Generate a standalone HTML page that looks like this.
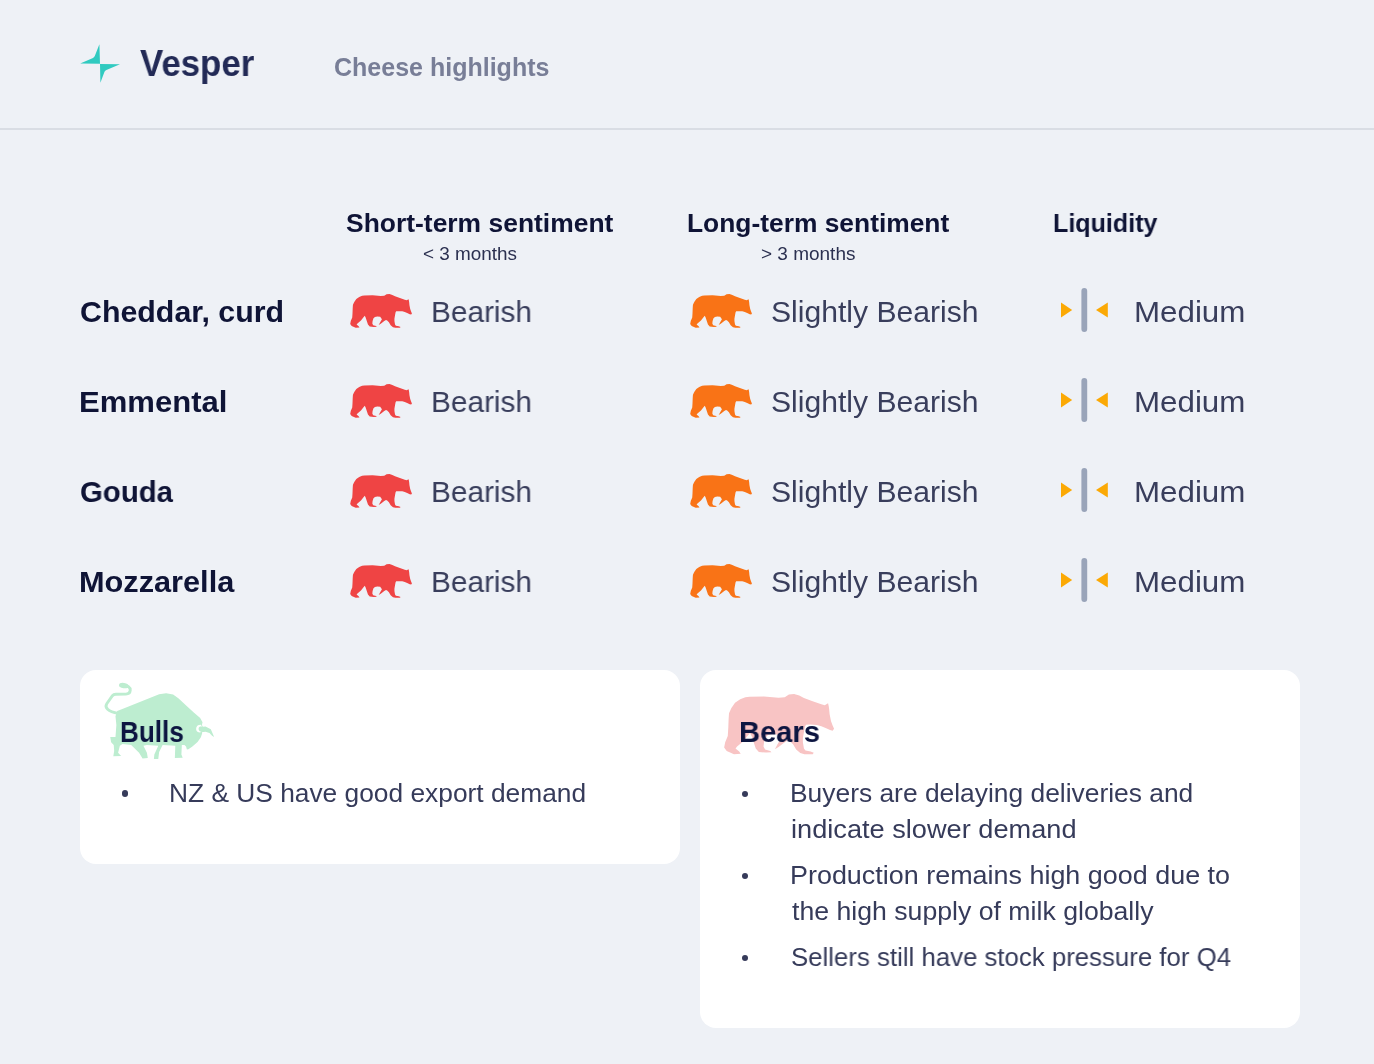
<!DOCTYPE html>
<html><head><meta charset="utf-8">
<style>
*{margin:0;padding:0;box-sizing:border-box}
html,body{width:1374px;height:1064px;overflow:hidden;background:#eef1f6}
body{position:relative;font-family:"Liberation Sans",sans-serif}
.t{position:absolute;white-space:nowrap;line-height:1;transform-origin:0 0;will-change:transform}
.hdr{position:absolute;left:0;top:128px;width:1374px;height:2px;background:#d9dde4}
.card{position:absolute;background:#fff;border-radius:16px}
.dot{position:absolute;width:6.4px;height:6.4px;border-radius:50%;background:#363b5a}
svg{position:absolute;overflow:visible}
</style></head><body>
<svg width="0" height="0" style="position:absolute">
<defs>
<path id="bearp" d="M420,180 L560,178 L700,190 L760,185 L800,160 L850,155 L900,170 L945,192 L1029,225 L1113,254 L1146,263 L1178,243 L1184,271 L1188,297 L1193,350 L1206,414 L1221,457 L1236,490 L1222,508 L1197,503 L1154,482 L1113,465 L1070,453 L1008,449 L965,452 L955,470 L945,520 L935,580 L935,620 L945,680 L960,700 L1010,710 L1040,722 L1030,735 L950,735 L910,725 L870,690 L840,640 L810,610 L790,600 L760,620 L700,665 L665,688 L690,640 L720,590 L690,545 L640,540 L600,550 L575,570 L560,620 L555,660 L570,690 L620,705 L632,716 L580,720 L510,715 L480,680 L460,620 L440,560 L425,530 L400,560 L360,610 L300,660 L285,680 L320,710 L335,730 L270,735 L200,705 L175,670 L185,620 L210,560 L215,480 L218,400 L222,340 L245,290 L280,240 L330,205 L380,185 Z"/>
<g id="liqi">
<path d="M1061,302.6 L1072.2,310.1 L1061,317.6 Z" fill="#fba905"/>
<rect x="1081.4" y="288.1" width="5.8" height="43.8" rx="2.9" fill="#99a4b9"/>
<path d="M1107.8,302.6 L1096,310.1 L1107.8,317.6 Z" fill="#fba905"/>
</g>
</defs>
</svg>
<!-- header -->
<svg style="left:0;top:0" width="1374" height="130" viewBox="0 0 1374 130">
<path fill="#30cac0" d="M99.4,44.2 L100,63.8 L80.2,63.6 L93,57.9 Q94.3,57.3 94.8,56 Z"/>
<path fill="#30cac0" d="M100,63.9 L120,64.2 L106.4,70 Q105.1,70.6 104.5,71.8 L100.4,82.8 Z"/>
</svg>
<div class="hdr"></div>

<!-- bears in table -->
<svg style="left:340px;top:285px" width="80" height="50" viewBox="0 0 1374 859"><use href="#bearp" fill="#ef4444"/></svg>
<svg style="left:340px;top:375px" width="80" height="50" viewBox="0 0 1374 859"><use href="#bearp" fill="#ef4444"/></svg>
<svg style="left:340px;top:465px" width="80" height="50" viewBox="0 0 1374 859"><use href="#bearp" fill="#ef4444"/></svg>
<svg style="left:340px;top:555px" width="80" height="50" viewBox="0 0 1374 859"><use href="#bearp" fill="#ef4444"/></svg>
<svg style="left:680px;top:285px" width="80" height="50" viewBox="0 0 1374 859"><use href="#bearp" fill="#f97316"/></svg>
<svg style="left:680px;top:375px" width="80" height="50" viewBox="0 0 1374 859"><use href="#bearp" fill="#f97316"/></svg>
<svg style="left:680px;top:465px" width="80" height="50" viewBox="0 0 1374 859"><use href="#bearp" fill="#f97316"/></svg>
<svg style="left:680px;top:555px" width="80" height="50" viewBox="0 0 1374 859"><use href="#bearp" fill="#f97316"/></svg>
<!-- liquidity icons -->
<svg style="left:0;top:0" width="1374" height="700" viewBox="0 0 1374 700">
<use href="#liqi"/>
<use href="#liqi" y="90"/>
<use href="#liqi" y="180"/>
<use href="#liqi" y="270"/>
</svg>

<!-- cards -->
<div class="card" style="left:80px;top:670px;width:600px;height:194px"></div>
<div class="card" style="left:700px;top:670px;width:600px;height:358px"></div>
<svg style="left:98px;top:676px" width="120" height="88" viewBox="0 0 1374 1008">
<g fill="#bdedd0">
<path d="M220,400 L300,370 L450,310 L600,250 L700,210 L780,198 L860,212 L920,255 L1000,330 L1100,420 L1170,480 L1197,530 L1190,560 L1200,580 L1231,578 L1292,610 L1330,700 L1306,685 L1277,652 L1231,640 L1190,643 L1193,657 L1178,703 L1140,756 L1081,808 L1035,838 L1018,842 L1008,808 L990,790 L960,790 L955,900 L970,935 L880,940 L885,800 L740,790 L700,870 L690,950 L640,950 L645,900 L690,800 L560,790 L520,800 L560,880 L570,940 L510,945 L470,880 L380,790 L280,780 L250,800 L230,880 L265,915 L175,920 L185,860 L180,790 L150,760 L140,700 L200,700 L210,560 L200,460 Z"/>
<ellipse cx="295" cy="110" rx="55" ry="30" transform="rotate(8 295 110)"/>
</g>
<path d="M1180,560 C1130,555 1115,600 1130,630 C1140,648 1170,650 1185,640 C1165,635 1150,620 1152,600 C1155,582 1170,575 1192,580 Z" fill="#fff"/>
<path d="M292,111 C340,110 372,125 369,165 C367,192 350,206 320,207 L204,209 C185,210 175,214 165,226 L100,318 C88,336 90,362 110,382 C135,406 170,420 230,428" fill="none" stroke="#bdedd0" stroke-width="33"/>
</svg>
<svg style="left:706.3px;top:677.8px" width="142.4" height="89" viewBox="0 0 1374 859"><use href="#bearp" fill="#f8c4c4"/></svg>
<div class="dot" style="left:121.8px;top:790.4px"></div>
<div class="dot" style="left:741.8px;top:790.7px"></div>
<div class="dot" style="left:741.8px;top:872.9px"></div>
<div class="dot" style="left:741.8px;top:954.9px"></div>

<!-- texts -->
<div id="vesper" class="t" style="left:140.2px;top:44.8px;font-size:37px;font-weight:bold;color:#222a56;transform:scaleX(0.9413)">Vesper</div>
<div id="cheese" class="t" style="left:333.9px;top:54.7px;font-size:25px;font-weight:bold;color:#787e97;transform:scaleX(1.0005)">Cheese highlights</div>
<div id="short" class="t" style="left:345.58px;top:209.8px;font-size:26px;font-weight:bold;color:#0f1436;transform:scaleX(1.0168)">Short-term sentiment</div>
<div id="lt3" class="t" style="left:422.6px;top:244.6px;font-size:18px;color:#2b3050;transform:scaleX(1.0494)">&lt; 3 months</div>
<div id="long" class="t" style="left:686.69px;top:209.8px;font-size:26px;font-weight:bold;color:#0f1436;transform:scaleX(1.0143)">Long-term sentiment</div>
<div id="gt3" class="t" style="left:761.45px;top:244.6px;font-size:18px;color:#2b3050;transform:scaleX(1.0545)">&gt; 3 months</div>
<div id="liq" class="t" style="left:1052.84px;top:209.8px;font-size:26px;font-weight:bold;color:#0f1436;transform:scaleX(0.9645)">Liquidity</div>
<div id="r1" class="t" style="left:79.89px;top:296.7px;font-size:30px;font-weight:bold;color:#0f1436;transform:scaleX(1.0116)">Cheddar, curd</div>
<div id="r2" class="t" style="left:79.13px;top:386.7px;font-size:30px;font-weight:bold;color:#0f1436;transform:scaleX(1.035)">Emmental</div>
<div id="r3" class="t" style="left:80.22px;top:476.7px;font-size:30px;font-weight:bold;color:#0f1436;transform:scaleX(0.9789)">Gouda</div>
<div id="r4" class="t" style="left:79.15px;top:566.7px;font-size:30px;font-weight:bold;color:#0f1436;transform:scaleX(1.0233)">Mozzarella</div>
<div id="v1" class="t" style="left:430.91px;top:296.7px;font-size:30px;color:#393e5c;transform:scaleX(0.9929)">Bearish</div>
<div id="s1" class="t" style="left:771.0px;top:296.7px;font-size:30px;color:#393e5c;transform:scaleX(1.0039)">Slightly Bearish</div>
<div id="m1" class="t" style="left:1133.71px;top:296.7px;font-size:30px;color:#393e5c;transform:scaleX(1.0437)">Medium</div>
<div id="v2" class="t" style="left:430.91px;top:386.7px;font-size:30px;color:#393e5c;transform:scaleX(0.9929)">Bearish</div>
<div id="s2" class="t" style="left:771.0px;top:386.7px;font-size:30px;color:#393e5c;transform:scaleX(1.0039)">Slightly Bearish</div>
<div id="m2" class="t" style="left:1133.71px;top:386.7px;font-size:30px;color:#393e5c;transform:scaleX(1.0437)">Medium</div>
<div id="v3" class="t" style="left:430.91px;top:476.7px;font-size:30px;color:#393e5c;transform:scaleX(0.9929)">Bearish</div>
<div id="s3" class="t" style="left:771.0px;top:476.7px;font-size:30px;color:#393e5c;transform:scaleX(1.0039)">Slightly Bearish</div>
<div id="m3" class="t" style="left:1133.71px;top:476.7px;font-size:30px;color:#393e5c;transform:scaleX(1.0437)">Medium</div>
<div id="v4" class="t" style="left:430.91px;top:566.7px;font-size:30px;color:#393e5c;transform:scaleX(0.9929)">Bearish</div>
<div id="s4" class="t" style="left:771.0px;top:566.7px;font-size:30px;color:#393e5c;transform:scaleX(1.0039)">Slightly Bearish</div>
<div id="m4" class="t" style="left:1133.71px;top:566.7px;font-size:30px;color:#393e5c;transform:scaleX(1.0437)">Medium</div>
<div id="bulls" class="t" style="left:119.86px;top:716.7px;font-size:30px;font-weight:bold;color:#0c1540;transform:scaleX(0.869)">Bulls</div>
<div id="bears" class="t" style="left:739.36px;top:716.7px;font-size:30px;font-weight:bold;color:#0c1540;transform:scaleX(0.9704)">Bears</div>
<div id="l0" class="t" style="left:169.48px;top:779.7px;font-size:26px;color:#363b5a;transform:scaleX(1.0125)">NZ &amp; US have good export demand</div>
<div id="l1" class="t" style="left:789.87px;top:779.7px;font-size:26px;color:#363b5a;transform:scaleX(1.0147)">Buyers are delaying deliveries and</div>
<div id="l2" class="t" style="left:790.85px;top:815.6px;font-size:26px;color:#363b5a;transform:scaleX(1.0454)">indicate slower demand</div>
<div id="l3" class="t" style="left:789.83px;top:861.7px;font-size:26px;color:#363b5a;transform:scaleX(1.0355)">Production remains high good due to</div>
<div id="l4" class="t" style="left:791.9px;top:897.6px;font-size:26px;color:#363b5a;transform:scaleX(1.0252)">the high supply of milk globally</div>
<div id="l5" class="t" style="left:790.91px;top:943.7px;font-size:26px;color:#363b5a;transform:scaleX(0.9919)">Sellers still have stock pressure for Q4</div>
</body></html>
